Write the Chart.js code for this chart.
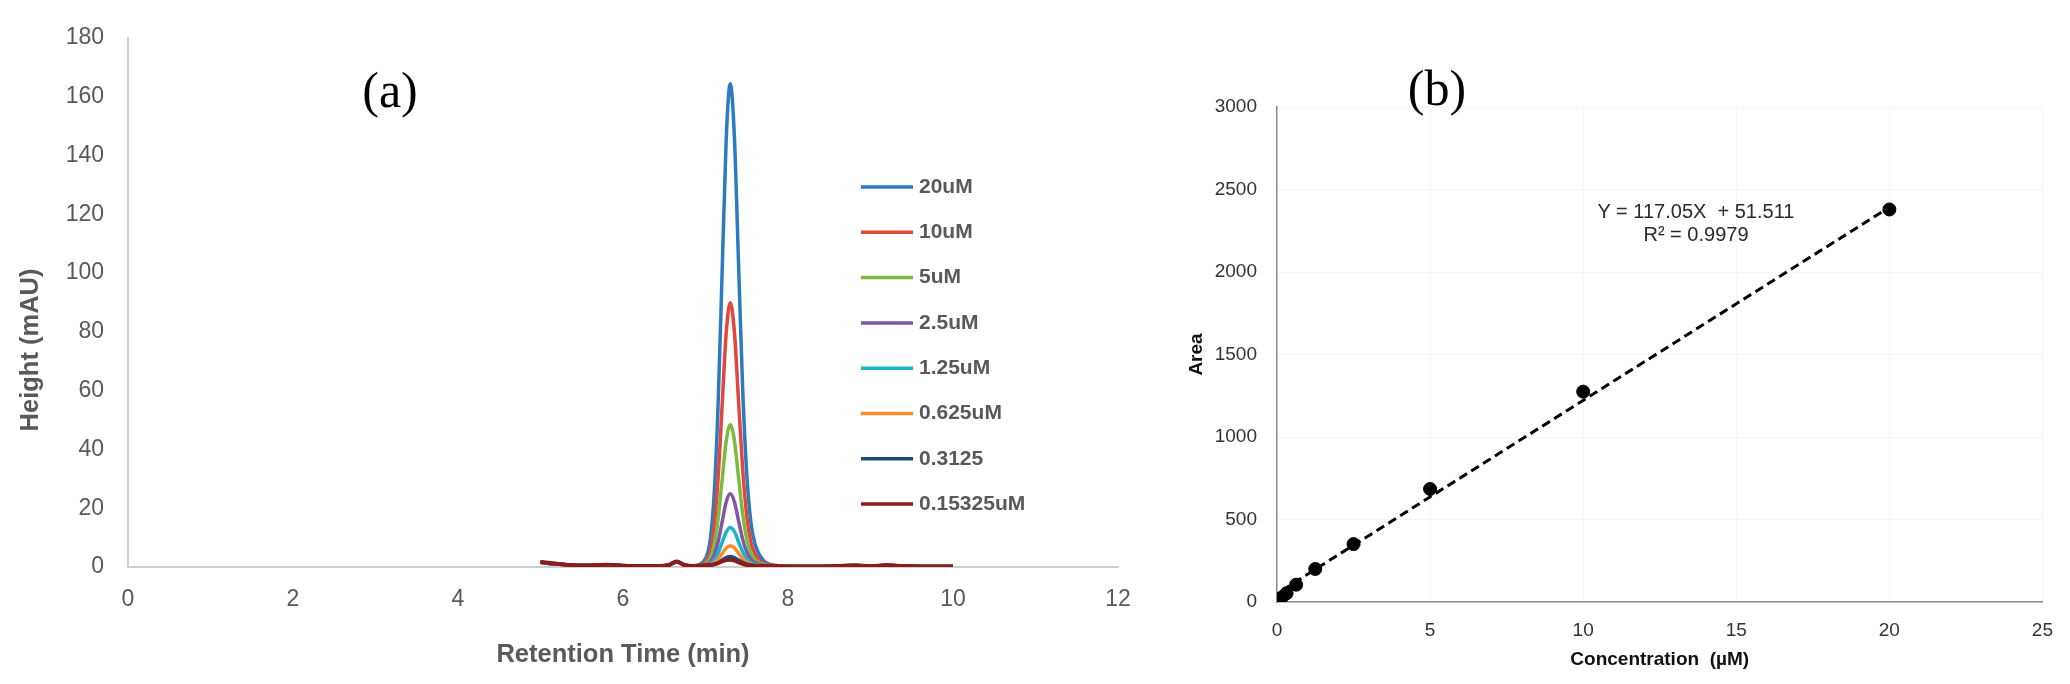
<!DOCTYPE html>
<html>
<head>
<meta charset="utf-8">
<script src="https://cdn.jsdelivr.net/npm/chart.js@4.4.1/dist/chart.umd.min.js"></script>
<style>
  body { margin: 0; background: #fff; width: 2070px; height: 684px; position: relative; overflow: hidden; }
  #cajaA { position: absolute; left: 0; top: 0; width: 1180px; height: 684px; }
  #cajaB { position: absolute; left: 1180px; top: 0; width: 890px; height: 684px; }
  .letra { position: absolute; font-family: "Liberation Serif", serif; font-size: 50px; color: #000; transform: translate(-50%, -50%); }
  .ecuacion { position: absolute; left: 1696px; top: 200px; transform: translateX(-50%); font-family: "Liberation Sans", Arial, sans-serif;
              font-size: 20px; line-height: 23px; color: #2a2a2a; text-align: center; white-space: pre; }
</style>
</head>
<body>
<div id="cajaA"><canvas id="graficoA"></canvas></div>
<div id="cajaB"><canvas id="graficoB"></canvas></div>
<div class="letra" style="left:390px; top:90px">(a)</div>
<div class="letra" style="left:1437px; top:88px">(b)</div>
<div class="ecuacion">Y = 117.05X  + 51.511
R² = 0.9979</div>

<script>
// (a) cromatogramas: tiempo de retencion (min) y altura (mAU) de cada patron
const tiempo = [5.0, 5.2, 5.4, 5.6, 5.8, 6.0, 6.2, 6.4, 6.55, 6.65, 6.75, 6.85,
  6.95, 7.0, 7.05, 7.1, 7.15, 7.2, 7.25, 7.3, 7.35, 7.4, 7.45, 7.5, 7.55, 7.6, 7.7, 7.8,
  8.0, 8.2, 8.4, 8.6, 8.8, 9.0, 9.2, 9.4, 9.6, 9.8, 10.0]

const etiquetas = ['20uM', '10uM', '5uM', '2.5uM', '1.25uM', '0.625uM', '0.3125', '0.15325uM']
const colores = ['#2b7bc1', '#e2463c', '#7db93e', '#7e57a6', '#19b3cf', '#fb8b2c', '#1d4a7a', '#8a1c1c']

const h20 = [1.5, 1.1, 0.7, 0.5, 0.8, 0.5, 0.3, 0.4, 0.6, 1.7, 0.7, 0.4,
  1.2, 2.9, 7.8, 22.5, 52.9, 98.8, 144.7, 164.4, 146.4, 103.7, 61.1, 31.6, 15.2, 7.8, 2.3, 0.8,
  0.3, 0.2, 0.2, 0.3, 0.6, 0.3, 0.5, 0.3, 0.2, 0.2, 0.2]
const h10 = [1.6, 1.0, 0.6, 0.5, 0.7, 0.4, 0.3, 0.3, 0.6, 1.8, 0.6, 0.3,
  0.9, 1.7, 4.4, 12.5, 29.0, 54.1, 79.2, 89.9, 80.1, 56.8, 33.5, 17.4, 8.5, 4.4, 1.4, 0.6,
  0.2, 0.2, 0.2, 0.3, 0.5, 0.3, 0.6, 0.3, 0.2, 0.2, 0.2]
const h5 = [1.6, 1.0, 0.6, 0.5, 0.8, 0.4, 0.3, 0.3, 0.6, 1.8, 0.6, 0.3,
  0.6, 1.1, 2.6, 6.9, 15.8, 29.2, 42.6, 48.4, 43.1, 30.6, 18.2, 9.5, 4.7, 2.6, 0.9, 0.4,
  0.2, 0.2, 0.2, 0.3, 0.5, 0.3, 0.6, 0.3, 0.2, 0.2, 0.2]
const h25 = [1.6, 1.0, 0.6, 0.5, 0.8, 0.4, 0.3, 0.3, 0.6, 1.8, 0.6, 0.3,
  0.5, 0.8, 1.5, 3.7, 8.2, 15.1, 22.0, 24.9, 22.2, 15.8, 9.5, 5.1, 2.6, 1.5, 0.6, 0.4,
  0.2, 0.2, 0.2, 0.3, 0.5, 0.3, 0.6, 0.3, 0.2, 0.2, 0.2]
const h125 = [1.6, 1.0, 0.6, 0.5, 0.8, 0.4, 0.3, 0.3, 0.6, 1.8, 0.6, 0.3,
  0.5, 0.6, 1.0, 2.2, 4.6, 8.2, 11.8, 13.4, 12.0, 8.6, 5.2, 2.9, 1.6, 1.0, 0.5, 0.3,
  0.2, 0.2, 0.2, 0.3, 0.5, 0.3, 0.6, 0.3, 0.2, 0.2, 0.2]
const h0625 = [1.6, 1.0, 0.6, 0.5, 0.8, 0.4, 0.3, 0.3, 0.6, 1.8, 0.6, 0.3,
  0.4, 0.5, 0.7, 1.3, 2.6, 4.5, 6.4, 7.2, 6.5, 4.7, 2.9, 1.7, 1.0, 0.7, 0.4, 0.3,
  0.2, 0.2, 0.2, 0.3, 0.5, 0.3, 0.6, 0.3, 0.2, 0.2, 0.2]
const h03125 = [1.6, 1.0, 0.6, 0.5, 0.8, 0.4, 0.3, 0.3, 0.6, 1.8, 0.6, 0.3,
  0.4, 0.5, 0.5, 0.8, 1.4, 2.3, 3.2, 3.6, 3.2, 2.4, 1.6, 1.0, 0.7, 0.5, 0.3, 0.3,
  0.2, 0.2, 0.2, 0.3, 0.5, 0.3, 0.6, 0.3, 0.2, 0.2, 0.2]
const h015 = [1.7, 1.1, 0.6, 0.5, 0.8, 0.4, 0.3, 0.3, 0.6, 1.9, 0.6, 0.3,
  0.5, 0.6, 0.7, 0.9, 1.3, 1.9, 2.4, 2.5, 2.2, 1.6, 1.1, 0.7, 0.5, 0.4, 0.3, 0.3,
  0.2, 0.2, 0.2, 0.3, 0.5, 0.3, 0.6, 0.3, 0.2, 0.2, 0.2]
const alturas = [h20, h10, h5, h25, h125, h0625, h03125, h015]

const ticksTiempo = [0, 2, 4, 6, 8, 10, 12]
const ticksAltura = [0, 20, 40, 60, 80, 100, 120, 140, 160, 180]

// (b) curva de calibrado
const concentracion = [0.15625, 0.3125, 0.625, 1.25, 2.5, 5, 10, 20]
const area = [28, 53, 105, 200, 351, 685, 1275, 2379]
const tendenciaX = [0.15625, 20]
const tendenciaY = [69.8, 2392.5]
const ticksConc = [0, 5, 10, 15, 20, 25]
const ticksArea = [0, 500, 1000, 1500, 2000, 2500, 3000]

const sans = '"Liberation Sans", Arial, sans-serif'
Chart.defaults.font.family = sans
Chart.defaults.animation = false

const leyendaA = {
  id: 'leyendaA',
  afterDraw(chart) {
    const ctx = chart.ctx
    ctx.save()
    ctx.textBaseline = 'middle'
    ctx.font = 'bold 21px ' + sans
    chart.data.datasets.forEach((ds, i) => {
      const y = 187 + i * 45.3
      ctx.strokeStyle = ds.borderColor
      ctx.lineWidth = 3.5
      ctx.beginPath()
      ctx.moveTo(861, y)
      ctx.lineTo(913, y)
      ctx.stroke()
      ctx.fillStyle = '#595959'
      ctx.fillText(ds.label, 919, y)
    })
    // titulo del eje y, desplazado como en el original
    ctx.translate(31, 350)
    ctx.rotate(-Math.PI / 2)
    ctx.textAlign = 'center'
    ctx.font = 'bold 25.5px ' + sans
    ctx.fillText('Height (mAU)', 0, 0)
    ctx.restore()
  }
}

function dibujarA () {
  const ctx = document.getElementById('graficoA').getContext('2d')
  new Chart(ctx, {
    type: 'line',
    data: {
      datasets: etiquetas.map((nombre, i) => ({
        label: nombre,
        data: tiempo.map((t, j) => ({ x: t, y: alturas[i][j] })),
        borderColor: colores[i],
        borderWidth: i === 7 ? 4 : 3.5,
        pointRadius: 0,
        cubicInterpolationMode: 'monotone',
        order: 8 - i
      }))
    },
    options: {
      responsive: true,
      maintainAspectRatio: false,
      layout: { padding: { top: 32, right: 62, left: 0, bottom: 0 } },
      plugins: { legend: { display: false }, tooltip: { enabled: false } },
      scales: {
        x: {
          type: 'linear', min: 0, max: 12,
          afterBuildTicks: (s) => { s.ticks = ticksTiempo.map(v => ({ value: v })) },
          afterFit: (s) => { s.height = 117 },
          grid: { color: 'rgba(0,0,0,0)', drawTicks: false },
          border: { color: '#cfcfcf', width: 2 },
          ticks: { color: '#595959', font: { size: 23 }, padding: 19 },
          title: { display: true, text: 'Retention Time (min)', color: '#595959',
                   font: { size: 25.5, weight: 'bold' }, padding: { top: 0, bottom: 14 } }
        },
        y: {
          min: 0, max: 180,
          afterBuildTicks: (s) => { s.ticks = ticksAltura.map(v => ({ value: v })) },
          afterFit: (s) => { s.width = 128 },
          grid: { color: 'rgba(0,0,0,0)', drawTicks: false },
          border: { color: '#cfcfcf', width: 2 },
          ticks: { color: '#595959', font: { size: 23 }, padding: 24 }
        }
      }
    },
    plugins: [leyendaA]
  })
}

function dibujarB () {
  const ctx = document.getElementById('graficoB').getContext('2d')
  new Chart(ctx, {
    type: 'scatter',
    data: {
      datasets: [
        {
          label: 'Area',
          data: concentracion.map((c, i) => ({ x: c, y: area[i] })),
          backgroundColor: '#000',
          borderColor: '#000',
          pointRadius: 6.5,
          order: 1
        },
        {
          type: 'line',
          label: 'Lineal',
          data: tendenciaX.map((c, i) => ({ x: c, y: tendenciaY[i] })),
          borderColor: '#000',
          borderWidth: 3,
          borderDash: [9, 5],
          pointRadius: 0,
          fill: false,
          order: 2
        }
      ]
    },
    options: {
      responsive: true,
      maintainAspectRatio: false,
      layout: { padding: { top: 107, right: 23, left: 0, bottom: 0 } },
      plugins: { legend: { display: false }, tooltip: { enabled: false } },
      scales: {
        x: {
          type: 'linear', min: 0, max: 25,
          afterBuildTicks: (s) => { s.ticks = ticksConc.map(v => ({ value: v })) },
          afterFit: (s) => { s.height = 82 },
          grid: { color: '#f5f5f5', drawTicks: false },
          border: { color: '#8c8c8c', width: 1.5 },
          ticks: { color: '#333', font: { size: 19 }, padding: 17, callback: (v) => String(v) },
          title: { display: true, text: 'Concentration  (µM)', color: '#111',
                   font: { size: 19, weight: 'bold' }, padding: { top: 0, bottom: 13 } }
        },
        y: {
          min: 0, max: 3000,
          afterBuildTicks: (s) => { s.ticks = ticksArea.map(v => ({ value: v })) },
          afterFit: (s) => { s.width = 97 },
          grid: { color: '#f5f5f5', drawTicks: false },
          border: { color: '#8c8c8c', width: 1.5 },
          ticks: { color: '#333', font: { size: 19 }, padding: 20, callback: (v) => String(v) },
          title: { display: true, text: 'Area', color: '#111',
                   font: { size: 19, weight: 'bold' }, padding: { top: 5, bottom: 0 } }
        }
      }
    }
  })
}

dibujarA()
dibujarB()
</script>
</body>
</html>
